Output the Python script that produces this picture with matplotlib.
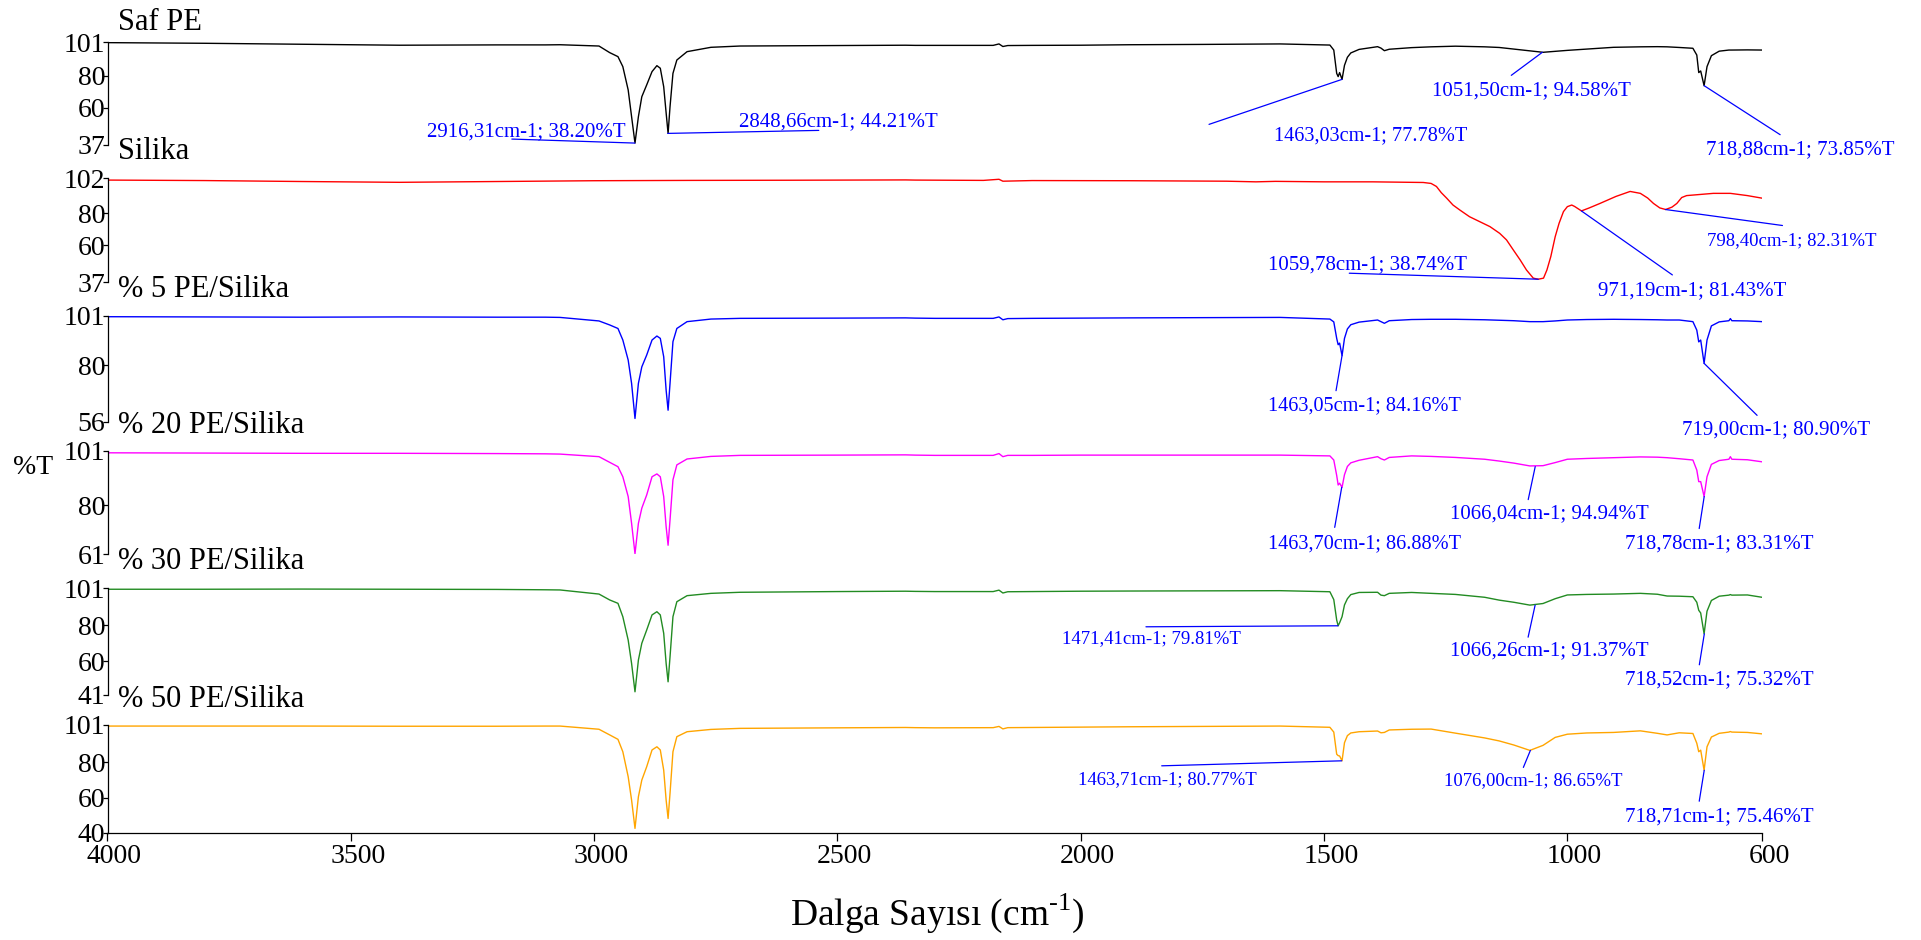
import matplotlib
matplotlib.use("Agg")
import matplotlib.pyplot as plt
from matplotlib.transforms import ScaledTranslation

# FTIR spectra, %T
wavenumber = [4000, 3800, 3600, 3400, 3200, 3100, 3070, 2990, 2968, 2951, 2941, 2930, 2923, 2916, 2909,
              2902, 2892, 2881, 2871, 2864, 2857, 2852, 2848, 2844, 2838, 2830, 2809, 2760, 2700, 2500,
              2360, 2340, 2300, 2180, 2168, 2160, 2150, 2100, 2000, 1900, 1750, 1590, 1488, 1480, 1474,
              1471, 1468, 1463, 1458, 1452, 1445, 1428, 1390, 1383, 1376, 1366, 1320, 1280, 1230, 1170,
              1140, 1110, 1077, 1050, 1025, 1000, 960, 905, 850, 815, 795, 770, 742, 734, 730,
              726, 719, 713, 704, 688, 668, 665, 662, 630, 600]

saf_pe = [100.6, 100.2, 99.6, 99.0, 99.2, 99.2, 99.3, 98.5, 94.4, 91.9, 85.7, 71.2, 54.6, 38.2, 54.6,
          67.0, 74.3, 82.6, 86.3, 84.7, 73.2, 56.9, 44.21, 60.8, 81.5, 89.8, 95.0, 97.7, 98.5, 98.8,
          99.0, 98.9, 98.9, 98.9, 99.8, 98.2, 98.8, 98.9, 99.0, 99.3, 99.5, 99.8, 99.1, 96.0, 81.5,
          79.5, 82.0, 77.78, 86.5, 91.5, 94.2, 96.4, 98.1, 97.2, 95.6, 96.5, 97.5, 98.0, 98.4, 98.0,
          97.6, 96.6, 95.5, 94.6, 95.2, 95.8, 96.6, 97.7, 98.0, 98.1, 98.0, 97.6, 97.1, 92.9, 82.0,
          83.0, 73.85, 85.7, 92.5, 95.3, 96.0, 96.0, 96.0, 96.1, 96.0]

pe_5 = [100.7, 100.6, 100.5, 100.6, 100.5, 100.5, 100.4, 98.9, 97.2, 95.7, 90.8, 82.3, 72.4, 57.5, 72.4,
        79.4, 84.4, 90.8, 92.5, 91.5, 83.7, 69.5, 61.0, 72.4, 90.1, 95.7, 98.6, 99.7, 100.0, 100.1,
        100.2, 100.1, 100.0, 100.0, 100.6, 99.4, 99.9, 100.0, 100.1, 100.2, 100.3, 100.4, 99.7, 98.5, 91.5,
        88.8, 89.5, 84.16, 91.5, 95.5, 97.3, 98.4, 99.3, 98.6, 97.9, 99.0, 99.5, 99.6, 99.6, 99.4,
        99.2, 99.0, 98.6, 98.6, 98.9, 99.3, 99.5, 99.6, 99.5, 99.4, 99.3, 99.3, 98.6, 95.0, 90.0,
        90.8, 80.90, 90.8, 96.8, 98.5, 99.0, 99.9, 99.0, 98.9, 98.6]

pe_20 = [100.3, 100.2, 100.1, 100.1, 100.0, 99.9, 99.8, 98.8, 96.6, 94.9, 91.0, 83.3, 72.9, 61.1, 72.9,
         78.8, 83.9, 91.0, 92.1, 91.0, 83.3, 71.6, 64.4, 74.2, 89.8, 95.6, 97.9, 98.9, 99.3, 99.4,
         99.5, 99.4, 99.3, 99.3, 100.0, 98.8, 99.3, 99.3, 99.4, 99.4, 99.4, 99.4, 99.1, 97.5, 91.5,
         87.8, 88.5, 86.88, 91.8, 95.0, 96.4, 97.4, 98.8, 98.0, 97.5, 98.5, 99.1, 98.9, 98.5, 97.8,
         97.1, 96.3, 95.2, 95.3, 96.5, 97.8, 98.1, 98.4, 98.7, 98.6, 98.4, 98.0, 97.5, 93.6, 89.1,
         89.1, 83.31, 91.0, 95.8, 97.3, 97.8, 98.8, 97.8, 97.6, 96.8]

pe_30 = [100.3, 100.3, 100.4, 100.3, 100.2, 100.0, 99.9, 97.6, 94.3, 92.4, 84.9, 71.8, 58.7, 42.8, 60.6,
         70.0, 77.4, 85.9, 87.7, 85.9, 75.6, 58.7, 48.4, 62.4, 84.9, 93.3, 96.7, 98.0, 98.6, 99.0,
         99.2, 99.1, 99.0, 99.0, 99.8, 98.2, 98.9, 99.0, 99.2, 99.3, 99.4, 99.5, 98.9, 94.5, 83.0,
         79.81, 81.5, 84.9, 91.5, 95.0, 97.3, 98.5, 98.6, 97.0, 96.7, 98.0, 98.5, 98.0, 97.4, 95.8,
         94.2, 93.0, 91.4, 92.3, 95.0, 97.1, 97.4, 97.6, 98.0, 97.5, 96.5, 96.4, 96.1, 93.0, 88.5,
         87.0, 75.32, 88.0, 94.0, 96.4, 97.0, 97.3, 97.0, 97.1, 95.8]

pe_50 = [100.4, 100.4, 100.4, 100.3, 100.3, 100.4, 100.4, 98.6, 95.4, 92.9, 85.9, 71.8, 58.6, 42.6, 60.5,
         69.9, 77.4, 86.9, 88.7, 86.9, 75.5, 58.6, 48.2, 62.4, 85.9, 94.4, 97.2, 98.5, 99.1, 99.4,
         99.6, 99.5, 99.4, 99.5, 100.2, 98.8, 99.5, 99.6, 99.8, 100.0, 100.2, 100.4, 99.7, 97.0, 84.5,
         83.7, 83.5, 80.77, 91.0, 95.0, 96.5, 97.2, 97.6, 96.6, 96.8, 98.2, 98.6, 98.7, 96.4, 93.7,
         92.0, 89.7, 86.65, 89.5, 94.0, 95.8, 96.5, 96.8, 97.7, 96.3, 95.4, 96.6, 96.2, 90.7, 85.9,
         86.8, 75.46, 88.7, 94.2, 96.3, 97.0, 97.3, 97.0, 96.8, 96.0]

# silica has its own grid
wavenumber_si = [4000, 3800, 3600, 3400, 3200, 3000, 2800, 2600, 2360, 2340, 2200, 2168, 2160, 2100, 1900,
                 1700, 1640, 1600, 1500, 1400, 1296, 1280, 1269, 1259, 1248, 1235, 1221, 1201, 1180, 1159,
                 1139, 1125, 1111, 1097, 1084, 1070, 1060, 1049, 1042, 1034, 1025, 1017, 1008, 1000, 991,
                 985, 971, 955, 933, 900, 871, 850, 835, 823, 810, 798, 785, 775, 765, 755,
                 700, 665, 630, 600]
silika = [100.7, 100.4, 99.8, 99.3, 99.8, 100.3, 100.5, 100.6, 100.8, 100.7, 100.5, 101.2, 100.0, 100.4, 100.3,
          100.0, 99.6, 99.9, 99.6, 99.6, 99.2, 98.6, 96.7, 92.8, 89.4, 85.1, 82.0, 77.8, 74.7, 71.6,
          67.4, 63.3, 57.0, 50.8, 44.5, 39.4, 38.74, 39.4, 44.5, 52.9, 65.3, 73.7, 81.0, 84.1, 85.1,
          84.2, 81.43, 83.3, 86.1, 90.5, 93.6, 92.4, 89.5, 86.1, 83.3, 82.31, 83.8, 86.1, 89.8, 91.0,
          92.4, 92.4, 91.0, 89.4]

names = ["Saf PE", "Silika", "% 5 PE/Silika", "% 20 PE/Silika", "% 30 PE/Silika", "% 50 PE/Silika"]
colors = ["black", "red", "blue", "magenta", "forestgreen", "orange"]
y_ranges = [(37, 101), (37, 102), (56, 101), (61, 101), (41, 101), (40, 101)]
y_ticks = [[37, 60, 80, 101], [37, 60, 80, 102], [56, 80, 101], [61, 80, 101], [41, 60, 80, 101], [40, 60, 80, 101]]
x_ticks = [4000, 3500, 3000, 2500, 2000, 1500, 1000, 600]

# peak labels: panel, wavenumber, %T, text
peaks = [
    (0, 2916.31, 38.20, "2916,31cm-1; 38.20%T"),
    (0, 2848.66, 44.21, "2848,66cm-1; 44.21%T"),
    (0, 1463.03, 77.78, "1463,03cm-1; 77.78%T"),
    (0, 1051.50, 94.58, "1051,50cm-1; 94.58%T"),
    (0, 718.88, 73.85, "718,88cm-1; 73.85%T"),
    (1, 1059.78, 38.74, "1059,78cm-1; 38.74%T"),
    (1, 971.19, 81.43, "971,19cm-1; 81.43%T"),
    (1, 798.40, 82.31, "798,40cm-1; 82.31%T"),
    (2, 1463.05, 84.16, "1463,05cm-1; 84.16%T"),
    (2, 719.00, 80.90, "719,00cm-1; 80.90%T"),
    (3, 1463.70, 86.88, "1463,70cm-1; 86.88%T"),
    (3, 1066.04, 94.94, "1066,04cm-1; 94.94%T"),
    (3, 718.78, 83.31, "718,78cm-1; 83.31%T"),
    (4, 1471.41, 79.81, "1471,41cm-1; 79.81%T"),
    (4, 1066.26, 91.37, "1066,26cm-1; 91.37%T"),
    (4, 718.52, 75.32, "718,52cm-1; 75.32%T"),
    (5, 1463.71, 80.77, "1463,71cm-1; 80.77%T"),
    (5, 1076.00, 86.65, "1076,00cm-1; 86.65%T"),
    (5, 718.71, 75.46, "718,71cm-1; 75.46%T"),
]
# leader line end / text corner as pixel offsets from the peak, and font size
label_layout = [
    ((-123, 4), (-208, 7), 15), ((151, 3), (71, 7), 15), ((-133, -45), (-68, -61), 14.6),
    ((-31, -23), (-110, -43), 15), ((76, -49), (2, -69), 15),
    ((-189, 6), (-270, 10), 15), ((91, -64), (17, -84), 15), ((117, -16), (42, -36), 13.5),
    ((-6, -35), (-74, -55), 14.6), ((53, -52), (-22, -71), 15),
    ((-7, -40), (-74, -61), 14.6), ((-7, -33), (-85, -52), 15), ((-5, -32), (-79, -52), 15),
    ((-192, -1), (-276, -17), 13.5), ((-7, -32), (-85, -50), 15), ((-5, -31), (-79, -50), 15),
    ((-180, -5), (-264, -23), 13.5), ((-7, -17), (-86, -35), 13.5), ((-5, -31), (-79, -51), 15),
]

plt.rcParams["font.family"] = ["Liberation Serif", "DejaVu Serif"]
plt.rcParams["mathtext.fontset"] = "custom"
plt.rcParams["mathtext.rm"] = "Liberation Serif"

W, H = 1921, 940
fig = plt.figure(figsize=(W / 100, H / 100), dpi=100)

# pixel boxes of the six stacked panels
panel_px = [(42, 145), (178, 282), (316, 422), (451, 554), (588, 695), (725, 833)]
label_base = [30, 159, 297, 433, 569, 707]
x_left, x_right = 107.5, 1762

series = [(wavenumber_si if i == 1 else wavenumber, s) for i, s in
          enumerate([saf_pe, silika, pe_5, pe_20, pe_30, pe_50])]

axes = []
for i in range(6):
    top, bot = panel_px[i]
    ax = fig.add_axes([x_left / W, 1 - bot / H, (x_right - x_left) / W, (bot - top) / H])
    wn, tr = series[i]
    ax.plot(wn, tr, color=colors[i], lw=1.0)
    ax.set_xlim(4000, 600)
    ax.set_ylim(*y_ranges[i])
    ax.set_yticks(y_ticks[i])
    ax.spines["top"].set_visible(False)
    ax.spines["right"].set_visible(False)
    ax.spines["left"].set_linewidth(0.9)
    ax.tick_params(axis="y", direction="out", length=3.5, width=0.9, pad=-2, labelsize=20)
    if i < 5:
        ax.spines["bottom"].set_visible(False)
        ax.tick_params(axis="x", bottom=False, labelbottom=False)
    else:
        ax.spines["bottom"].set_linewidth(0.9)
        ax.set_xticks(x_ticks)
        ax.tick_params(axis="x", direction="out", length=6, width=0.9, pad=2, labelsize=20)
        for lab in ax.get_xticklabels():
            lab.set_transform(lab.get_transform() + ScaledTranslation(7 / 100, 0, fig.dpi_scale_trans))
    fig.text(118 / W, 1 - label_base[i] / H, names[i], fontsize=22, va="baseline", ha="left")
    axes.append(ax)

# peak annotations
for (p, w, t, txt), (line_off, text_off, fs) in zip(peaks, label_layout):
    ax = axes[p]
    ax.annotate("", xy=(w, t), xytext=line_off, textcoords="offset pixels",
                arrowprops=dict(arrowstyle="-", color="blue", lw=0.9, shrinkA=0, shrinkB=0),
                annotation_clip=False)
    ax.annotate(txt, xy=(w, t), xytext=text_off, textcoords="offset pixels",
                color="blue", fontsize=fs, ha="left", va="baseline", annotation_clip=False)

fig.text(33 / W, 1 - 468 / H, "%T", fontsize=20, ha="center", va="center")
fig.text(937 / W, 1 - 913 / H, "Dalga Sayısı (cm$^{\\text{-1}}$)", fontsize=27, ha="center", va="center")

fig.savefig("out.png", dpi=100)
